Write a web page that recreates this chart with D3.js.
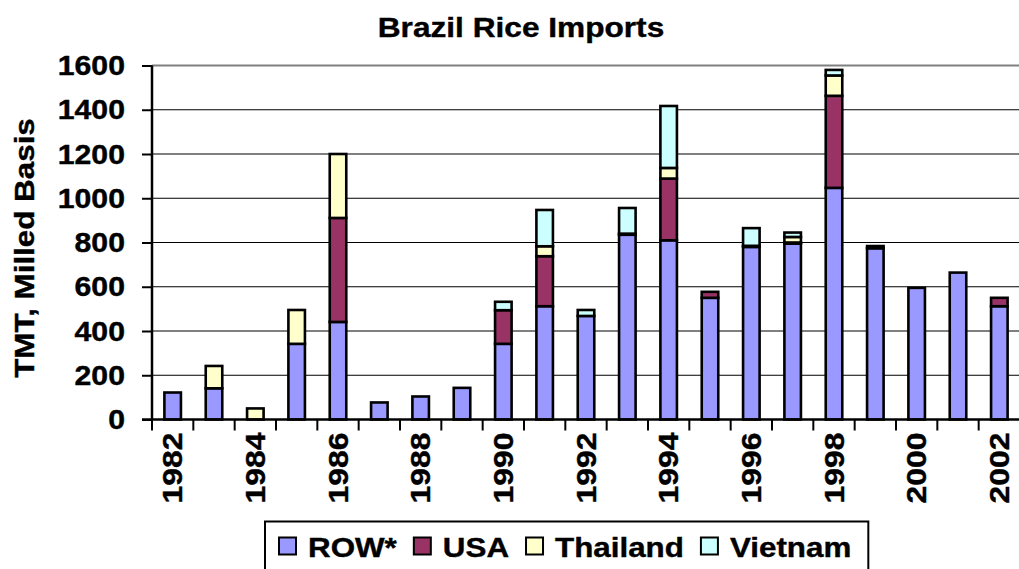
<!DOCTYPE html>
<html>
<head>
<meta charset="utf-8">
<script src="https://cdn.jsdelivr.net/npm/d3@7"></script>
<style>
  html, body { margin: 0; padding: 0; background: #fff; }
  svg { display: block; }
  text { font-family: "Liberation Sans", Arial, sans-serif; font-weight: bold; fill: #000; }
</style>
</head>
<body>
<svg id="chart" width="1019" height="569"></svg>
<script>
// ---- data (TMT, milled basis) ----
const years = [1982,1983,1984,1985,1986,1987,1988,1989,1990,1991,1992,1993,1994,1995,1996,1997,1998,1999,2000,2001,2002];
const row      = [122,141,0,342,441,77,104,143,342,512,468,835,810,550,780,795,1047,774,595,664,512];
const usa      = [0,0,0,0,470,0,0,0,152,226,0,5,279,27,5,5,416,10,0,0,38];
const thailand = [0,101,50,153,289,0,0,0,0,45,0,0,48,0,0,25,92,0,0,0,0];
const vietnam  = [0,0,0,0,0,0,0,0,38,164,27,116,280,0,80,20,25,0,0,0,0];
const seriesNames = ["ROW*","USA","Thailand","Vietnam"];
const seriesColors = ["#9999FF","#993366","#FFFFCC","#CCFFFF"];
const yTicks = [0,200,400,600,800,1000,1200,1400,1600];
const title = "Brazil Rice Imports";
const yTitle = "TMT, Milled Basis";

(function () {
const svg = d3.select("#chart");

const pL = 152, pR = 1020, pT = 65.5, pB = 419.5;
const x = d3.scaleBand().domain(years).range([pL, pR]).paddingInner(0).paddingOuter(0);
const y = d3.scaleLinear().domain([0,1600]).range([pB, pT]);

function sText(g, str, px, py, size, anchor, rot, sx) {
  const t = g.append("g")
    .attr("transform", `translate(${px},${py})` + (rot ? ` rotate(${rot})` : "") + ` scale(${sx || 1.1},1)`)
    .append("text")
    .attr("font-size", size)
    .attr("text-anchor", anchor)
    .attr("stroke", "#000").attr("stroke-width", 0.4)
    .text(str);
  return t;
}

// gridlines
svg.append("g").selectAll("line")
  .data(yTicks.filter(v => v > 0 && v < 1600))
  .join("line")
  .attr("x1", pL).attr("x2", pR)
  .attr("y1", d => y(d)).attr("y2", d => y(d))
  .attr("stroke", "#000").attr("stroke-width", 1);
// plot area top border (gray)
svg.append("line").attr("x1", pL).attr("x2", pR)
  .attr("y1", y(1600)).attr("y2", y(1600))
  .attr("stroke", "#808080").attr("stroke-width", 2);

// stacked bars
const table = years.map((yr, i) => ({ year: yr, "ROW*": row[i], "USA": usa[i], "Thailand": thailand[i], "Vietnam": vietnam[i] }));
const stack = d3.stack().keys(seriesNames)(table);
const bw = x.bandwidth() * 0.4;
const gBars = svg.append("g");
stack.forEach((layer, si) => {
  gBars.append("g").selectAll("rect")
    .data(layer.filter(d => d[1] - d[0] > 0))
    .join("rect")
    .attr("x", d => x(d.data.year) + (x.bandwidth() - bw) / 2)
    .attr("width", bw)
    .attr("y", d => y(d[1]))
    .attr("height", d => y(d[0]) - y(d[1]))
    .attr("fill", seriesColors[si])
    .attr("stroke", "#000")
    .attr("stroke-width", 2.6);
});

// y axis
const yAxis = d3.axisLeft(y).tickValues(yTicks).tickSize(10).tickFormat("");
const gy = svg.append("g").attr("transform", `translate(${pL},0)`).call(yAxis);
gy.select(".domain").attr("stroke", "#000").attr("stroke-width", 2.5).attr("d", `M0,${pB}V${pT}`);
gy.selectAll(".tick line").attr("stroke", "#000").attr("stroke-width", 2);
const gyl = svg.append("g");
yTicks.forEach(v => {
  sText(gyl, String(v), 125, y(v) + 9.5, 27, "end", 0, 1.12);
});

// x axis
const gx = svg.append("g").attr("transform", `translate(0,${pB})`);
gx.append("line").attr("x1", pL - 10).attr("x2", pR).attr("y1", 0).attr("y2", 0)
  .attr("stroke", "#000").attr("stroke-width", 2.5);
gx.selectAll("line.tk")
  .data(years.concat([null]))
  .join("line").attr("class", "tk")
  .attr("x1", (d, i) => pL + i * x.step()).attr("x2", (d, i) => pL + i * x.step())
  .attr("y1", 0).attr("y2", 11)
  .attr("stroke", "#000").attr("stroke-width", 2);
years.forEach((yr, i) => {
  if (i % 2 === 0) {
    sText(svg, String(yr), x(yr) + x.bandwidth() / 2 + 9.5, pB + 13, 27.5, "end", -90, 1.16);
  }
});

// titles
sText(svg, title, 521, 37, 28, "middle", 0, 1.13);
sText(svg, yTitle, 34, 248, 28, "middle", -90, 1.12);

// legend
const lg = svg.append("g");
const lx0 = 265, ly0 = 521.5;
let cx = lx0 + 14;
seriesNames.forEach((name, i) => {
  lg.append("rect").attr("x", cx).attr("y", 537.5).attr("width", 17).attr("height", 17)
    .attr("fill", seriesColors[i]).attr("stroke", "#000").attr("stroke-width", 2);
  const t = sText(lg, name, cx + 29, 557, 28, "start", 0, 1.12);
  const w = t.node().getComputedTextLength() * 1.12;
  cx = cx + 29 + w + 17;
});
lg.insert("rect", ":first-child").attr("x", lx0).attr("y", ly0).attr("width", cx - lx0).attr("height", 60)
  .attr("fill", "#fff").attr("stroke", "#000").attr("stroke-width", 2);
})();
</script>
</body>
</html>
